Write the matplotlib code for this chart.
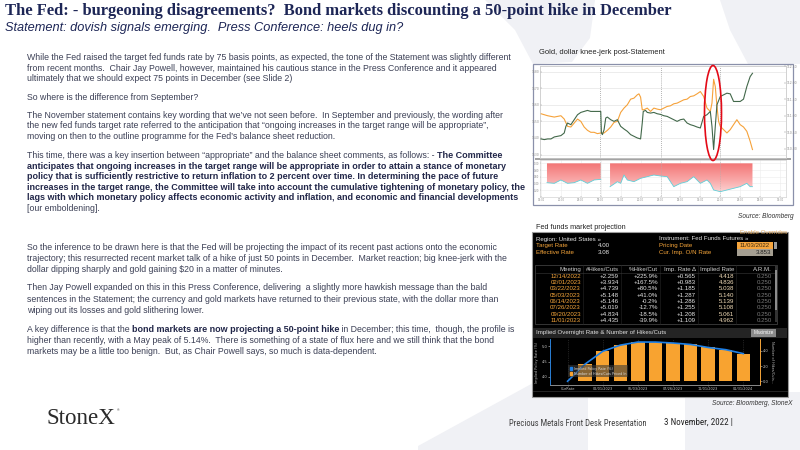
"""Slide recreation: Fed statement commentary with gold/dollar chart and fed funds projection."""
import numpy as np
import matplotlib
matplotlib.use("Agg")
import matplotlib.font_manager as fm
import matplotlib.pyplot as plt
from matplotlib.colors import LinearSegmentedColormap
from matplotlib.patches import Ellipse, Patch, Polygon, Rectangle
from matplotlib.path import Path

# ---------------- text ----------------
title = "The Fed: - burgeoning disagreements?  Bond markets discounting a 50-point hike in December"
subtitle = "Statement: dovish signals emerging.  Press Conference: heels dug in?"

body_lines = [
    [("While the Fed raised the target fed funds rate by 75 basis points, as expected, the tone of the Statement was slightly different", False)],
    [("from recent months.  Chair Jay Powell, however, maintained his cautious stance in the Press Conference and it appeared", False)],
    [("ultimately that we should expect 75 points in December (see Slide 2)", False)],
    [("So where is the difference from September?", False)],
    [("The November statement contains key wording that we\u2019ve not seen before.  In September and previously, the wording after", False)],
    [("the new fed funds target rate referred to the anticipation that \u201congoing increases in the target range will be appropriate\u201d,", False)],
    [("moving on then to the outline programme for the Fed\u2019s balance sheet reduction.", False)],
    [("This time, there was a key insertion between \u201cappropriate\u201d and the balance sheet comments, as follows: - ", False),
     ("The Committee", True)],
    [("anticipates that ongoing increases in the target range will be appropriate in order to attain a stance of monetary", True)],
    [("policy that is sufficiently restrictive to return inflation to 2 percent over time. In determining the pace of future", True)],
    [("increases in the target range, the Committee will take into account the cumulative tightening of monetary policy, the", True)],
    [("lags with which monetary policy affects economic activity and inflation, and economic and financial developments", True)],
    [("[our emboldening].", False)],
    [("So the inference to be drawn here is that the Fed will be projecting the impact of its recent past actions onto the economic", False)],
    [("trajectory; this resurrected recent market talk of a hike of just 50 points in December.  Market reaction; big knee-jerk with the", False)],
    [("dollar dipping sharply and gold gaining $20 in a matter of minutes.", False)],
    [("Then Jay Powell expanded on this in this Press Conference, delivering  a slightly more hawkish message than the bald", False)],
    [("sentences in the Statement; the currency and gold markets have returned to their previous state, with the dollar more than", False)],
    [("wiping out its losses and gold slithering lower.", False)],
    [("A key difference is that the ", False), ("bond markets are now projecting a 50-point hike", True),
     (" in December; this time,  though, the profile is", False)],
    [("higher than recently, with a May peak of 5.14%.  There is something of a state of flux here and we still think that the bond", False)],
    [("markets may be a little too benign.  But, as Chair Powell says, so much is data-dependent.", False)],
]

# ---------------- gold / dollar intraday ----------------
gold_t = [0, 2, 4, 6, 7, 8, 9, 10, 11, 12, 13, 14, 15, 16, 17, 18, 19, 20, 21, 22, 23, 24, 25, 26, 27, 28, 29,
          29.5, 30, 30.5, 31, 32, 33, 34, 35, 36, 37, 38, 39, 40, 41, 42, 43, 44, 45, 46, 47, 48, 49, 50, 51,
          51.5, 52, 52.5, 53, 53.5, 54, 55, 56, 57, 58, 59, 60, 61, 62, 63, 63.7]
gold_px = [1654.6, 1653.4, 1652.6, 1653.4, 1651.4, 1647.0, 1646.6, 1649.0, 1651.4, 1650.0, 1646.6, 1644.6,
           1643.4, 1643.4, 1642.6, 1643.0, 1643.0, 1644.6, 1646.6, 1649.4, 1650.0, 1655.4, 1658.0, 1660.0,
           1663.4, 1664.0, 1666.0, 1666.6, 1664.6, 1657.0, 1657.0, 1658.0, 1656.0, 1658.0, 1657.4, 1657.0,
           1658.0, 1659.0, 1659.4, 1660.6, 1661.0, 1662.0, 1663.0, 1663.4, 1665.0, 1665.4, 1666.6, 1668.0,
           1665.0, 1658.0, 1656.0, 1661.0, 1675.4, 1671.0, 1659.0, 1650.0, 1647.0, 1645.0, 1643.0, 1645.0,
           1648.0, 1651.0, 1648.0, 1646.6, 1644.0, 1638.0, 1633.0]
usd_t = [0, 1, 2, 3, 4, 5, 6, 7, 7.5, 8, 9, 10, 11, 12, 13, 14, 15, 16, 17, 18,
         18.2, 18.5, 19, 19.5, 20, 21, 22, 23, 24, 25, 26, 27, 28, 29, 30,
         30.5, 30.8, 31.5, 32, 33, 34, 35, 36, 37, 38, 39, 40, 41, 42, 43, 44, 45, 46, 47, 48, 49, 50, 51,
         51.5, 52, 52.5, 53, 54, 55, 56, 57, 58, 59, 60, 61, 62, 63, 63.7]
usd_px = [110.30, 110.28, 110.30, 110.30, 110.36, 110.38, 110.40, 110.48, 110.68, 110.78, 110.73, 110.88,
          111.03, 111.10, 111.13, 111.16, 111.13, 111.13, 111.13, 111.13,
          110.48, 110.43, 110.58, 110.93, 110.96, 110.88, 110.83, 110.88, 110.68, 110.60, 110.53, 110.43,
          110.38, 110.33, 110.30,
          110.78, 111.13, 111.16, 111.10, 111.08, 111.10, 111.06, 111.04, 111.00, 110.98, 110.93, 110.88,
          110.83, 110.88, 110.90, 110.78, 110.73, 110.70, 110.66, 110.63, 110.98, 111.03, 111.13,
          110.68, 109.98, 110.68, 111.33, 111.58, 111.63, 111.68, 111.66, 111.43, 111.43, 111.43, 111.50,
          111.88, 112.18, 112.28]
corr_t = [1.8, 4, 6, 8, 10, 12, 14, 16, 18, 19.5, 20.8, 22, 23, 24, 25, 26, 28, 30, 32, 34, 36, 38, 40, 42,
          44, 46, 48, 50, 51, 52, 54, 56, 58, 60, 62, 63, 63.7]
corr_v = [0.42, 0.40, 0.50, 0.40, 0.42, 0.50, 0.40, 0.50, 0.52, np.nan, 0.30, 0.38, 0.45, 0.40, 0.65, 0.50,
          0.45, 0.55, 0.60, 0.65, 0.62, 0.60, 0.30, 0.40, 0.45, 0.60, 0.40, 0.50, 0.40, 0.20, 0.15, 0.20,
          0.25, 0.30, 0.40, 0.30, 0.30]
day_breaks = [17.7, 36.0, 54.0]
gold_ticks = [1630, 1640, 1650, 1660, 1670, 1680]
usd_ticks = [110.0, 110.5, 111.0, 111.5, 112.0, 112.5]
time_ticks = [0, 6, 12, 18, 24, 30, 36, 42, 48, 54, 60, 66, 72]
time_labels = ["14:00", "20:00", "02:00", "08:00", "14:00", "20:00", "02:00", "08:00", "14:00",
               "20:00", "02:00", "08:00", "14:00"]

# ---------------- Bloomberg fed funds projection ----------------
region_lbl = "Region: United States \u00bb"
instrument_lbl = "Instrument: Fed Funds Futures \u00bb"
target_rate = "4.00"
effective_rate = "3.08"
pricing_date = "11/03/2022"
cur_imp_rate = "3.853"
table_cols = ["Meeting", "#Hikes/Cuts", "%Hike/Cut", "Imp. Rate \u0394", "Implied Rate", "A.R.M."]
meetings = ["12/14/2022", "02/01/2023", "03/22/2023", "05/03/2023", "06/14/2023", "07/26/2023",
            "09/20/2023", "11/01/2023"]
hikes_tbl = ["+2.259", "+3.934", "+4.739", "+5.148", "+5.146", "+5.019", "+4.834", "+4.435"]
pct_tbl = ["+225.9%", "+167.5%", "+80.5%", "+41.0%", "-0.2%", "-12.7%", "-18.5%", "-39.9%"]
delta_tbl = ["+0.565", "+0.983", "+1.185", "+1.287", "+1.286", "+1.255", "+1.208", "+1.109"]
implied_tbl = ["4.418", "4.836", "5.038", "5.140", "5.139", "5.108", "5.061", "4.962"]
arm_tbl = ["0.250"] * 8

chart_dates = ["CurRate", "12/14/2022", "02/01/2023", "03/22/2023", "05/03/2023", "06/14/2023",
               "07/26/2023", "09/20/2023", "11/01/2023", "12/13/2023", "01/31/2024"]
implied_rate = [3.853, 4.418, 4.836, 5.038, 5.140, 5.139, 5.108, 5.061, 4.962, 4.89, 4.76]
n_hikes = [0.0, 2.259, 3.934, 4.739, 5.148, 5.146, 5.019, 4.834, 4.435, 4.15, 3.63]

# ---------------- style ----------------
W, H = 800, 450
NAVY = "#1d2656"
BODY = "#3c4056"
BOLD = "#23284a"
ORANGE = "#f5a53a"
WM = "#f0f1f5"
SANS = "Liberation Sans"
SERIF = "Liberation Serif"
_names = {f.name for f in fm.fontManager.ttflist}
NARROW = next((n for n in ["Liberation Sans Narrow", "Roboto Condensed", "Open Sans Condensed", "Roboto"]
               if n in _names), SANS)

fig = plt.figure(figsize=(8, 4.5), dpi=100)
fig.patch.set_facecolor("white")
page = fig.add_axes([0, 0, 1, 1], zorder=0)
page.set_xlim(0, W)
page.set_ylim(H, 0)
page.axis("off")
renderer = fig.canvas.get_renderer()


def px_axes(x0, y0, x1, y1, **kw):
    return fig.add_axes([x0 / W, 1 - y1 / H, (x1 - x0) / W, (y1 - y0) / H], **kw)


def width_of(s, **kw):
    t = page.text(0, 0, s, **kw)
    w = t.get_window_extent(renderer).width
    t.remove()
    return w


def fit(s, target, **kw):
    return 10 * target / width_of(s, fontsize=10, **kw)


def advance(s, **kw):
    return width_of(s + "|", **kw) - width_of("|", **kw)


# ---- watermark shapes ----
for pts in [
    [(485, 0), (595, 0), (590, 38), (572, 62), (533, 64), (515, 30)],
    [(720, 0), (800, 0), (800, 64), (748, 64), (730, 30)],
    [(418, 450), (418, 446), (533, 383), (588, 392), (588, 450)],
    [(685, 450), (685, 398), (700, 392), (800, 392), (800, 450)],
]:
    page.add_patch(Polygon(pts, closed=True, facecolor=WM, edgecolor="none", zorder=0))

# ---- titles ----
page.text(5, 11, title, ha="left", va="center", family=SERIF, weight="bold", color=NAVY,
          fontsize=fit(title, 672, family=SERIF, weight="bold"))
page.text(5, 28, subtitle, ha="left", va="center", family=SANS, style="italic", color=NAVY,
          fontsize=fit(subtitle, 399, family=SANS, style="italic"))

# ---- body text ----
body_y = [58, 68.5, 78.7, 97, 115, 126, 136.7, 156, 166.4, 176.9, 187.4, 197.8, 208.4,
          247.4, 258.4, 269.5, 288, 299, 310.5, 329.5, 340.5, 351.5]
fs_norm = fit(body_lines[0][0][0], 485, family=SANS)
fs_bold = fit(body_lines[10][0][0], 494, family=SANS, weight="bold")
for y, runs in zip(body_y, body_lines):
    x = 27
    for s, b in runs:
        kw = dict(family=SANS, weight="bold" if b else "normal", fontsize=fs_bold if b else fs_norm)
        page.text(x, y, s, ha="left", va="center", color=BOLD if b else BODY, **kw)
        x += advance(s, **kw)

# ---- gold / dollar chart ----
ct = "Gold, dollar knee-jerk post-Statement"
page.text(539, 52.5, ct, ha="left", va="center", family=SANS, color="#222222",
          fontsize=fit(ct, 124, family=SANS))
page.add_patch(Rectangle((533, 64), 260, 141, facecolor="white", edgecolor="#8a90aa", lw=0.9, zorder=1))
page.add_patch(Rectangle((535, 157.6), 256, 2.2, facecolor="#a3a3a3", edgecolor="none", zorder=2))

ax_g = px_axes(540, 66, 786, 157.5, zorder=2)
ax_g.set_xlim(-0.3, 73.8)
ax_g.set_ylim(1628.2, 1683.4)
ax_g.set_yticks(gold_ticks)
ax_g.set_yticklabels([str(v) for v in gold_ticks])
ax_g.set_xticks([])
ax_g.grid(axis="y", color="#e4e4e4", lw=0.5)
for d in day_breaks:
    ax_g.axvline(d, color="#9a9a9a", lw=0.6, ls=(0, (1, 1.5)))
ax_g.plot(gold_t, gold_px, color="#f6a23a", lw=0.8, zorder=4)

ax_u = px_axes(540, 66, 786, 157.5, zorder=3)
ax_u.patch.set_visible(False)
ax_u.yaxis.tick_right()
ax_u.set_xlim(-0.3, 73.8)
ax_u.set_ylim(109.74, 112.50)
ax_u.set_yticks(usd_ticks)
ax_u.set_yticklabels([f"{v:.2f}" for v in usd_ticks])
ax_u.set_xticks([])
ax_u.plot(usd_t, usd_px, color="#42684a", lw=0.8, zorder=4)
for a in (ax_g, ax_u):
    a.tick_params(labelsize=2.2, colors="#8a8a8a", length=1.2, width=0.3, pad=0.6, direction="in")
    for sp in a.spines.values():
        sp.set_color("#c8c8c8")
        sp.set_linewidth(0.4)

ax_c = px_axes(540, 160, 786, 197, zorder=2)
band = ax_c.fill_between(corr_t, corr_v, 1.0, facecolor="none", edgecolor="none")
clip = Path.make_compound_path(*band.get_paths())
pink = LinearSegmentedColormap.from_list("pink", ["#fde4e4", "#f9a8a8", "#f37676"])
grad = ax_c.imshow(np.linspace(0, 1, 64).reshape(-1, 1), extent=[-0.3, 73.8, 0, 1.0], origin="lower",
                   aspect="auto", cmap=pink, zorder=2)
grad.set_clip_path(clip, transform=ax_c.transData)
ax_c.plot(corr_t, corr_v, color="#5fcfd8", lw=0.6, zorder=3)
ax_c.set_xlim(-0.3, 73.8)
ax_c.set_ylim(-0.01, 1.10)
ax_c.set_yticks([0.2, 0.4, 0.6, 0.8, 1.0])
ax_c.set_yticklabels(["0.20", "0.40", "0.60", "0.80", "1.00"])
ax_c.set_xticks(time_ticks)
ax_c.set_xticklabels(time_labels)
ax_c.grid(color="#ececec", lw=0.4)
for d in day_breaks:
    ax_c.axvline(d, color="#b0b0b0", lw=0.5, ls=(0, (1, 1.5)))
ax_c.tick_params(labelsize=1.8, colors="#8a8a8a", length=1.0, width=0.3, pad=0.5, direction="in")
for sp in ax_c.spines.values():
    sp.set_color("#c8c8c8")
    sp.set_linewidth(0.4)

src1 = "Source: Bloomberg"
page.text(794, 216, src1, ha="right", va="center", family=SANS, style="italic", color="#333333",
          fontsize=fit(src1, 56, family=SANS, style="italic"))

# ---- fed funds projection panel ----
ft = "Fed funds market projection"
page.text(536, 227.5, ft, ha="left", va="center", family=SANS, color="#222222",
          fontsize=fit(ft, 91, family=SANS))
panel = Rectangle((532, 232), 256, 165, facecolor="black", edgecolor="#9c9c9c", lw=0.8, zorder=2)
page.add_patch(panel)
FS = 4.4
WH = "#e6e6e6"
eo = page.text(787, 232.6, "Enable Overrides", ha="right", va="center", family=SANS, fontsize=FS,
               color="#d8a25a", zorder=3)
eo.set_clip_path(panel)
page.text(536, 239, region_lbl, ha="left", va="center", family=SANS, fontsize=FS, color=WH, zorder=3)
page.text(659, 239, instrument_lbl, ha="left", va="center", family=SANS, fontsize=FS, color=WH, zorder=3)
page.text(536, 245.7, "Target Rate", ha="left", va="center", family=SANS, fontsize=FS, color=ORANGE, zorder=3)
page.text(610, 245.7, target_rate, ha="right", va="center", family=SANS, fontsize=FS, color=WH, zorder=3)
page.text(536, 252.3, "Effective Rate", ha="left", va="center", family=SANS, fontsize=FS, color=ORANGE, zorder=3)
page.text(610, 252.3, effective_rate, ha="right", va="center", family=SANS, fontsize=FS, color=WH, zorder=3)
page.text(659, 245.7, "Pricing Date", ha="left", va="center", family=SANS, fontsize=FS, color=ORANGE, zorder=3)
page.text(659, 252.3, "Cur. Imp. O/N Rate", ha="left", va="center", family=SANS, fontsize=FS, color=ORANGE,
          zorder=3)
page.add_patch(Rectangle((737, 242.4), 35.5, 6.6, facecolor="#f6a53d", edgecolor="none", zorder=3))
page.add_patch(Rectangle((773.5, 242.4), 3.5, 6.6, facecolor="#9a9a9a", edgecolor="none", zorder=3))
page.text(754.7, 245.7, pricing_date, ha="center", va="center", family=SANS, fontsize=FS, color="#3a2a10",
          zorder=4)
page.add_patch(Rectangle((737, 249.3), 35.5, 6.6, facecolor="#a59f92", edgecolor="none", zorder=3))
page.text(771.5, 252.6, cur_imp_rate, ha="right", va="center", family=SANS, fontsize=FS, color="#222222",
          zorder=4)

table = Rectangle((535, 264.5), 242, 59, facecolor="black", edgecolor="#4a4a4a", lw=0.5, zorder=3)
page.add_patch(table)
col_right = [581, 619, 658, 696, 734, 772]
for xsep in [583, 621, 660, 698, 736]:
    page.plot([xsep, xsep], [265, 323.5], color="#262626", lw=0.4, zorder=3)
for xr, c in zip(col_right, table_cols):
    page.text(xr, 269.5, c, ha="right", va="center", family=SANS, fontsize=FS, color="#cfcfcf", zorder=4)
page.plot([536, 776], [272.6, 272.6], color="#3a3a3a", lw=0.4, zorder=4)
row_cols = [
    (meetings, ORANGE),
    (hikes_tbl, WH),
    (pct_tbl, WH),
    (delta_tbl, WH),
    (implied_tbl, "#f2dcb8"),
    (arm_tbl, "#7a7a7a"),
]
for i in range(len(meetings)):
    y = 276 + i * 6.35
    for xr, (vals, col) in zip(col_right, row_cols):
        t = page.text(xr, y, vals[i], ha="right", va="center", family=SANS, fontsize=FS, color=col, zorder=4)
        t.set_clip_path(table)
page.add_patch(Rectangle((774.5, 266), 2.4, 56, facecolor="#333333", edgecolor="none", zorder=4))
page.add_patch(Rectangle((774.5, 270), 2.4, 40, facecolor="#8c8c8c", edgecolor="none", zorder=5))

page.add_patch(Rectangle((533, 327.5), 254, 10, facecolor="#242424", edgecolor="none", zorder=3))
ht = "Implied Overnight Rate & Number of Hikes/Cuts"
page.text(536, 332.5, ht, ha="left", va="center", family=SANS, color="#e0e0e0", zorder=4,
          fontsize=fit(ht, 131, family=SANS))
page.add_patch(Rectangle((751, 328.5), 25, 8, facecolor="#8a8a8a", edgecolor="none", zorder=4))
page.text(763.5, 332.6, "Maximize", ha="center", va="center", family=SANS, fontsize=3.4, color="white",
          zorder=5)
page.plot([533, 787], [390.5, 390.5], color="#2c2c2c", lw=0.6, zorder=3)

ax_h = px_axes(550, 339, 760, 385, facecolor="black", zorder=5)
ax_b = ax_h.twinx()
ax_b.yaxis.tick_left()
ax_b.yaxis.set_label_position("left")
ax_h.yaxis.tick_right()
ax_h.yaxis.set_label_position("right")
ax_b.set_zorder(6)
ax_b.patch.set_visible(False)
xs = np.arange(len(chart_dates))
ax_h.bar(xs, n_hikes, width=0.76, color="#f8a330", edgecolor="none", zorder=2)
ax_b.plot(xs, implied_rate, color="#1f80e6", lw=1.2, zorder=3)
cur = implied_rate[0]
lo, hi = 3.73, 5.24
ax_b.set_ylim(lo, hi)
ax_h.set_ylim((lo - cur) / 0.25, (hi - cur) / 0.25)
ax_h.set_xlim(-1.0, 10.95)
ax_b.set_yticks([4.0, 4.5, 5.0])
ax_b.set_yticklabels(["4.0", "4.5", "5.0"])
ax_h.set_yticks([0, 2, 4])
ax_h.set_yticklabels(["0.0", "2.0", "4.0"])
ax_h.set_xticks(xs[::2])
ax_h.set_xticklabels(chart_dates[::2])
ax_h.grid(axis="x", color="#3a3a3a", lw=0.4, ls=(0, (2, 2)))
ax_b.set_ylabel("Implied Policy Rate (%)", fontsize=2.5, color="#bdbdbd", labelpad=2)
ax_h.set_ylabel("Number of Hikes/Cuts...", fontsize=2.5, color="#bdbdbd", rotation=270, labelpad=4)
ax_b.tick_params(axis="y", labelsize=2.6, colors="#c8c8c8", length=1.2, width=0.4, pad=0.8)
ax_h.tick_params(axis="y", labelsize=2.6, colors="#c8c8c8", length=1.2, width=0.4, pad=0.8)
ax_h.tick_params(axis="x", labelsize=2.5, colors="#c8c8c8", length=1.0, width=0.4, pad=0.8)
for a in (ax_h, ax_b):
    a.spines["top"].set_visible(False)
    a.spines["left"].set_color("#2a7fd6")
    a.spines["right"].set_color(ORANGE)
    a.spines["bottom"].set_color("#8a8a8a")
    for sp in a.spines.values():
        sp.set_linewidth(0.6)
leg = ax_b.legend(handles=[Patch(color="#1f80e6"), Patch(color="#f8a330")],
                  labels=["Implied Policy Rate (%)", "Number of Hikes/Cuts Priced In"],
                  loc="lower left", bbox_to_anchor=(0.08, 0.14), fontsize=2.4, labelcolor="#dddddd",
                  frameon=True, facecolor="#3a3a3a", edgecolor="none", framealpha=0.6, fancybox=False,
                  handlelength=0.8, handleheight=0.8, handletextpad=0.4, borderpad=0.4, labelspacing=0.3)

src2 = "Source: Bloomberg, StoneX"
page.text(793, 403.5, src2, ha="right", va="center", family=SANS, style="italic", color="#333333",
          fontsize=fit(src2, 81, family=SANS, style="italic"))

# ---- footer ----
page.text(47, 418, "StoneX", ha="left", va="center", family=SERIF, color="#2b2b2b",
          fontsize=fit("StoneX", 69, family=SERIF))
page.text(117, 410.5, "\u00ae", ha="left", va="center", family=SANS, color="#2b2b2b", fontsize=2.5)
foot = "Precious Metals Front Desk Presentation"
page.text(509, 423, foot, ha="left", va="center", family=NARROW, color="#444444",
          fontsize=fit(foot, 138, family=NARROW))
date_s = "3 November, 2022 |"
page.text(664.5, 422, date_s, ha="left", va="center", family=NARROW, color="#222222",
          fontsize=fit(date_s, 68, family=NARROW))

# ---- red ellipse on top ----
over = fig.add_axes([0, 0, 1, 1], zorder=20)
over.set_xlim(0, W)
over.set_ylim(H, 0)
over.axis("off")
over.patch.set_visible(False)
over.add_patch(Ellipse((713, 113), 17, 95, facecolor="none", edgecolor="#e30a17", lw=1.2))

fig.savefig("out.png", dpi=100, facecolor="white")
